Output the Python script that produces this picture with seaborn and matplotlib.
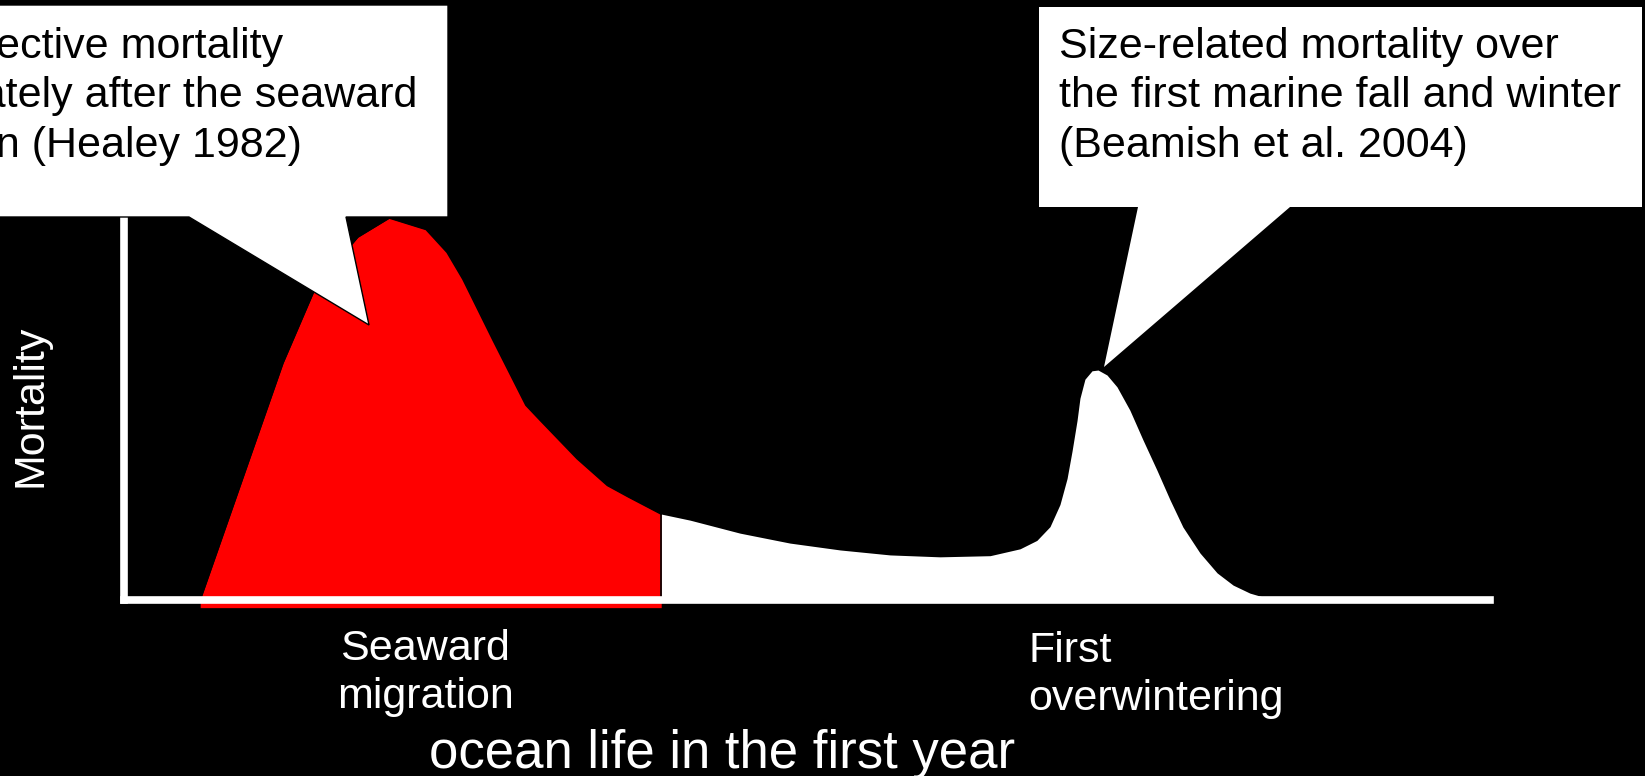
import matplotlib
matplotlib.use('Agg')
import matplotlib.pyplot as plt
from matplotlib.patches import Polygon
import seaborn as sns

# weeks of ocean life vs relative mortality
red_weeks = [2.9, 6.05, 7.3, 8.9, 10.1, 11.5, 12.3, 12.9, 14.05, 15.3, 15.85, 17.25, 18.4, 19.2, 20.45]
red_mortality = [0.0, 0.62, 0.82, 0.95, 1.0, 0.97, 0.91, 0.84, 0.68, 0.51, 0.47, 0.37, 0.30, 0.27, 0.225]

white_weeks = [20.45, 21.55, 23.45, 25.35, 27.26, 29.16, 31.06, 32.97, 34.11, 34.75, 35.25, 35.63,
               35.9, 36.09, 36.28, 36.39, 36.58, 36.85, 37.08, 37.42, 37.8, 38.29, 38.79, 39.32,
               39.82, 40.31, 40.96, 41.61, 42.22, 42.86, 43.36, 52.0]
white_mortality = [0.225, 0.209, 0.175, 0.149, 0.131, 0.118, 0.113, 0.116, 0.134, 0.156, 0.192, 0.25,
                   0.318, 0.39, 0.47, 0.528, 0.578, 0.6, 0.602, 0.589, 0.558, 0.497, 0.419, 0.34,
                   0.262, 0.191, 0.123, 0.071, 0.039, 0.018, 0.008, 0.0]

seaward_label = 'Seaward\nmigration'
winter_label = 'First\noverwintering'
x_label = 'ocean life in the first year'
y_label = 'Mortality'
left_note = 'Size-selective mortality\nimmediately after the seaward\nmigration (Healey 1982)'
right_note = 'Size-related mortality over\nthe first marine fall and winter\n(Beamish et al. 2004)'

W, H = 1645, 776

sns.set_theme(style='white')
plt.rcParams['font.family'] = ['Liberation Sans', 'DejaVu Sans']

fig = plt.figure(figsize=(W / 100, H / 100), dpi=100, facecolor='black')

# main plot area: y axis line at x=124px, baseline at y=600px, peak at y=218px
ax = fig.add_axes([124 / W, 1 - 600 / H, 1366 / W, 382 / H])
ax.set_facecolor('black')
ax.set_xlim(0, 52)
ax.set_ylim(0, 1)

ax.fill_between(red_weeks, red_mortality, -0.02, color='#ff0000', lw=0, clip_on=False)
ax.fill_between(white_weeks, white_mortality, 0, color='white', lw=0)
sns.lineplot(x=red_weeks, y=red_mortality, ax=ax, color='black', lw=1.2)
ax.plot([red_weeks[-1], red_weeks[-1]], [0, red_mortality[-1]], color='black', lw=1.2)

ax.set_xticks([])
ax.set_yticks([])
ax.set_xlabel('')
ax.set_ylabel('')
for side in ['top', 'right']:
    ax.spines[side].set_visible(False)
for side in ['left', 'bottom']:
    ax.spines[side].set_color('white')
    ax.spines[side].set_linewidth(5.5)
    ax.spines[side].set_capstyle('projecting')

# overlay in pixel coordinates for the callouts and labels
ov = fig.add_axes([0, 0, 1, 1], zorder=5)
ov.set_xlim(0, W)
ov.set_ylim(H, 0)
ov.axis('off')

left_box = [(-20, 5), (448, 5), (448, 217), (346, 217), (369, 325), (189, 217), (-20, 217)]
right_box = [(1039, 7), (1642, 7), (1642, 207), (1290, 207), (1104, 367), (1138, 207), (1039, 207)]
ov.add_patch(Polygon(left_box, closed=True, facecolor='white', edgecolor='black', lw=1))
ov.add_patch(Polygon(right_box, closed=True, facecolor='white', edgecolor='none'))

ov.text(417, 27, left_note, ha='right', va='top', ma='left', fontsize=31,
        linespacing=1.3, color='black')
ov.text(1059, 27, right_note, ha='left', va='top', ma='left', fontsize=31,
        linespacing=1.3, color='black')

ov.text(425, 673, seaward_label, ha='center', va='center', ma='center', fontsize=31,
        linespacing=1.25, color='white')
ov.text(1028, 675, winter_label, ha='left', va='center', ma='left', fontsize=31,
        linespacing=1.25, color='white')
ov.text(722, 768, x_label, ha='center', va='baseline', fontsize=38, color='white')
ov.text(31, 406, y_label, ha='center', va='center', rotation=90, fontsize=31, color='white')

fig.savefig('out.png', dpi=100, facecolor='black')
